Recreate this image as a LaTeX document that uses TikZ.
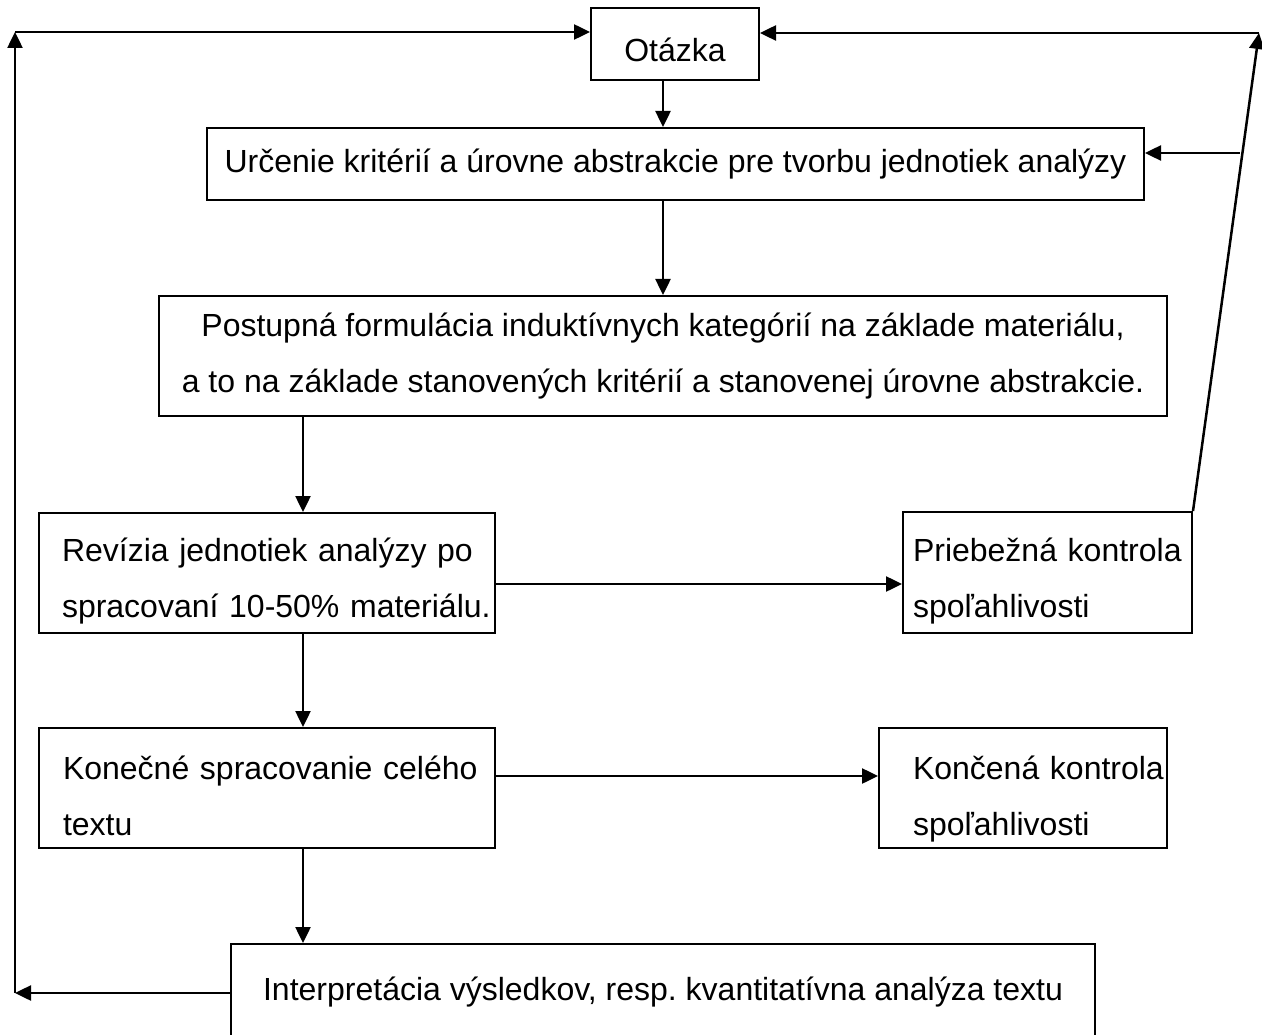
\documentclass[tikz,border=0pt]{standalone}
\usepackage{fontspec}
\setmainfont{Liberation Sans}
\usetikzlibrary{arrows.meta}
\tikzset{
	box/.style={draw, line width=2pt, inner sep=0pt, font=\fontsize{32}{56}\selectfont},
	lbox/.style={box, align=left, text height=40pt},
	arr/.style={line width=2.5pt, -{Triangle[length=16pt,width=15pt]}}
}
\begin{document}
\begin{tikzpicture}[x=1pt,y=-1pt]
		\clip (0,0) rectangle (1262,1035);
		\node[box, minimum width=168, minimum height=72, text height=36pt, text depth=0pt] (otazka) at (675,44) {Otázka};
		\node[box, minimum width=937, minimum height=72] (urcenie) at (675.5,164) {Určenie kritérií a úrovne abstrakcie pre tvorbu jednotiek analýzy};
		\node[box, align=center, minimum width=1008, minimum height=120] (postupna) at (663,356) {Postupná formulácia induktívnych kategórií na základe materiálu,\\a to na základe stanovených kritérií a stanovenej úrovne abstrakcie.};
		\node[lbox, text width=410pt, inner xsep=23pt, minimum height=120] (revizia) at (267,573) {\mbox{Revízia jednotiek analýzy po}\\\mbox{spracovaní 10-50\% materiálu.}};
		\node[lbox, text width=269pt, inner xsep=10pt, minimum height=121] (priebezna) at (1047.5,572.5) {\mbox{Priebežná kontrola}\\\mbox{spoľahlivosti}};
		\node[lbox, text width=408pt, inner xsep=24pt, minimum height=120] (konecne) at (267,788) {\mbox{Konečné spracovanie celého}\\\mbox{textu}};
		\node[lbox, text width=220pt, inner xsep=34pt, minimum height=120, text height=46pt] (koncena) at (1023,788) {\mbox{Končená kontrola}\\\mbox{spoľahlivosti}};
		\node[box, anchor=north, minimum width=864, text height=56pt, text depth=42pt] (interp) at (663,943) {Interpretácia výsledkov, resp.\ kvantitatívna analýza textu};
		\coordinate (spine) at (303,0);
		\coordinate (tl) at (15,32);
		\coordinate (tr) at (1259,33);
		\coordinate (ur) at (1240,153);
		\draw[arr] (postupna.north |- otazka.south) -- (postupna.north |- urcenie.north);
		\draw[arr] (postupna.north |- urcenie.south) -- (postupna.north);
		\draw[arr] (postupna.south -| spine) -- (revizia.north -| spine);
		\draw[arr] (revizia.south -| spine) -- (konecne.north -| spine);
		\draw[arr] (konecne.south -| spine) -- (interp.north -| spine);
		\draw[arr] ([yshift=-11pt]revizia.east) -- ([yshift=-11pt]revizia.east -| priebezna.west);
		\draw[arr] ([yshift=12pt]konecne.east) -- ([yshift=12pt]konecne.east -| koncena.west);
		\draw[arr] (interp.west) -- (interp.west -| tl);
		\draw[arr] (interp.west -| tl) -- (tl);
		\draw[arr] (tl) -- (tl -| otazka.west);
		\draw[arr] (priebezna.north east) -- (tr);
		\draw[arr] (tr) -- (tr -| otazka.east);
		\draw[arr] (ur) -- (ur -| urcenie.east);
	\end{tikzpicture}
\end{document}
